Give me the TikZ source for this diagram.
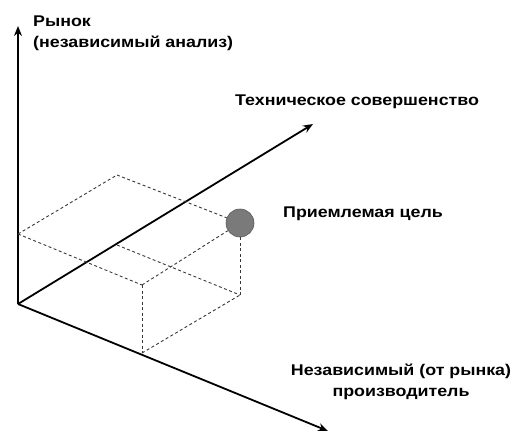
\documentclass[tikz,border=0pt]{standalone}
\usepackage{fontspec}
\setmainfont[FakeStretch=1.15]{Liberation Sans}
\usetikzlibrary{arrows.meta}
\begin{document}
\begin{tikzpicture}[x=1pt,y=-1pt,
  axis/.style={line width=1.8pt, -{Stealth[length=10pt,width=8pt]}},
  hid/.style={dash pattern=on 3pt off 2.5pt, line width=0.9pt, black!78},
  lab/.style={font=\bfseries\fontsize{15.5}{21}\selectfont, inner sep=0pt}]
\useasboundingbox (0,0) rectangle (511,433);
% axes
\coordinate (O) at (18,304);
\coordinate (Vend) at (18,26);
\coordinate (Tend) at (313,124);
\coordinate (Bend) at (328,431);
\draw[axis] (O) -- (Vend);
\draw[axis] (O) -- (Tend);
\draw[axis] (O) -- (Bend);
% box corners
\coordinate (A) at (142,353);
\coordinate (Tt) at (117,245);
\coordinate (C) at (18,234);
\coordinate (AT) at (240,295);
\coordinate (AC) at (142,285);
\coordinate (TC) at (117,175);
\node[circle, minimum size=28pt, inner sep=0pt, fill=black!52, draw=black!65, line width=0.6pt] (goal) at (240,223) {};
% hidden box edges
\draw[hid] (C) -- (AC);
\draw[hid] (C) -- (TC);
\draw[hid] (TC) -- (goal);
\draw[hid] (AC) -- (goal);
\draw[hid] (AC) -- (A);
\draw[hid] (A) -- (AT);
\draw[hid] (AT) -- (goal);
\draw[hid] (Tt) -- (AT);
% labels
\node[lab, align=left, anchor=west] (market) at (33,33) {Рынок\\(независимый анализ)};
\node[lab, anchor=west] (tech) at (235,102) {Техническое совершенство};
\node[lab, anchor=west] (goallab) at (283,214) {Приемлемая цель};
\node[lab, align=center] (indep) at (401,382) {Независимый (от рынка)\\производитель};
\end{tikzpicture}
\end{document}
